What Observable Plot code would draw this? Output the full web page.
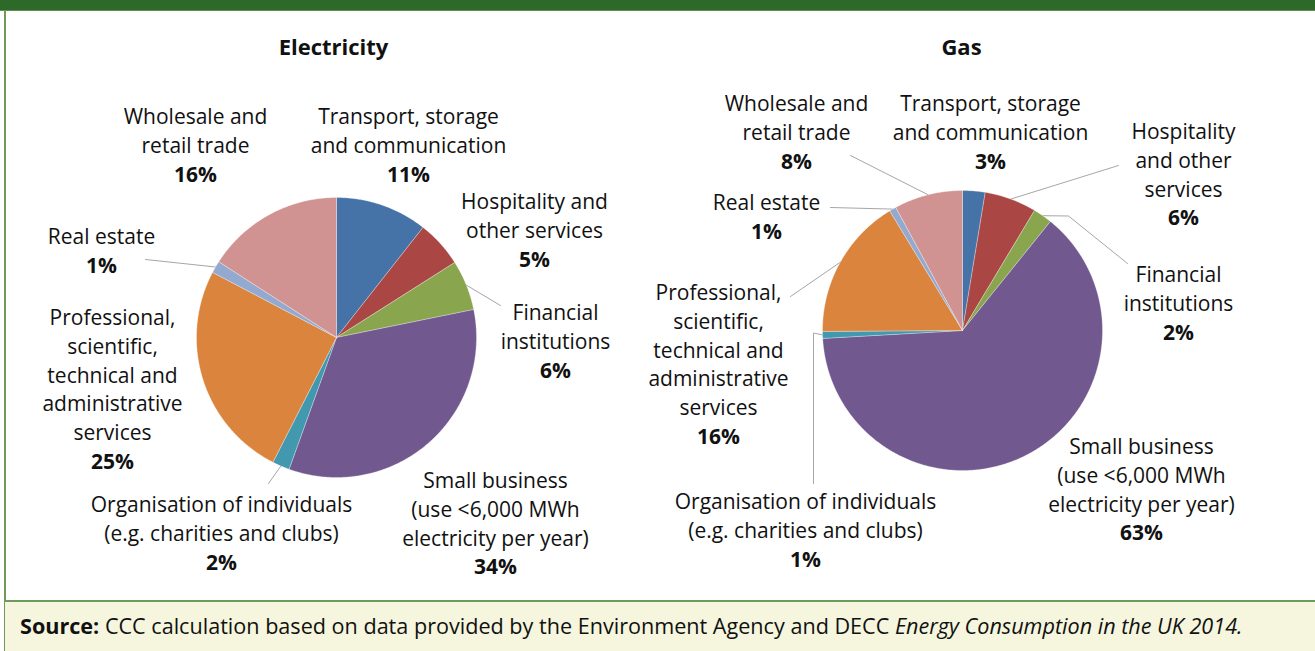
<!DOCTYPE html>
<html><head><meta charset="utf-8">
<script src="https://cdn.jsdelivr.net/npm/d3@7"></script>
<script src="https://cdn.jsdelivr.net/npm/@observablehq/plot@0.6"></script>
<style>
body{margin:0;background:#fff;}
#frame{position:relative;width:1315px;height:651px;overflow:hidden;background:#fff;font-family:"Open Sans",sans-serif;}
#chart{position:absolute;left:0;top:0;}
#topbar{position:absolute;left:0;top:0;width:1315px;height:10px;background:#2d6a2a;border-bottom:1px solid #5f8f50;}
#lborder{position:absolute;left:4px;top:10px;width:2px;height:641px;background:#6f9a5c;}
#footer{position:absolute;left:5px;top:600px;width:1310px;height:51px;background:#f5f6dd;border-top:2px solid #6f9a5c;box-sizing:border-box;font-size:21.6px;color:#111;padding-left:15px;line-height:47px;white-space:nowrap;}
</style></head>
<body>
<div id="frame">
  <div id="chart"></div>
  <div id="topbar"></div>
  <div id="lborder"></div>
  <div id="footer"><b>Source:</b> CCC calculation based on data provided by the Environment Agency and DECC <i>Energy Consumption in the UK 2014.</i></div>
</div>
<script>
// ---- data ----
const categories = [
  "Transport, storage and communication",
  "Hospitality and other services",
  "Financial institutions",
  "Small business (use <6,000 MWh electricity per year)",
  "Organisation of individuals (e.g. charities and clubs)",
  "Professional, scientific, technical and administrative services",
  "Real estate",
  "Wholesale and retail trade"
];
const electricity = [10.6, 5.4, 5.8, 33.7, 2.0, 25.2, 1.4, 15.9];
const gas = [2.6, 6.0, 2.2, 63.3, 0.8, 16.4, 0.8, 7.9];
const chartTitles = ["Electricity", "Gas"];
const colors = ["#4572A7", "#AA4643", "#89A54E", "#71588F", "#4198AF", "#DB843D", "#93A9CF", "#D19392"];

// ---- label text (line breaks per chart) ----
const elecLines = [
  ["Transport, storage", "and communication"],
  ["Hospitality and", "other services"],
  ["Financial", "institutions"],
  ["Small business", "(use <6,000 MWh", "electricity per year)"],
  ["Organisation of individuals", "(e.g. charities and clubs)"],
  ["Professional,", "scientific,", "technical and", "administrative", "services"],
  ["Real estate"],
  ["Wholesale and", "retail trade"]
];
const gasLines = [
  ["Transport, storage", "and communication"],
  ["Hospitality", "and other", "services"],
  ["Financial", "institutions"],
  ["Small business", "(use <6,000 MWh", "electricity per year)"],
  ["Organisation of individuals", "(e.g. charities and clubs)"],
  ["Professional,", "scientific,", "technical and", "administrative", "services"],
  ["Real estate"],
  ["Wholesale and", "retail trade"]
];

// ---- layout ----
const W = 1315, H = 601, LH = 28.7, FS = 21;
const pies = [
  {name: "e", cx: 336, cy: 337, r: 140, title: [333, 47]},
  {name: "g", cx: 962, cy: 330, r: 140, title: [961, 47]}
];
const elecLayout = [
  {x: 408, y: 117}, {x: 534, y: 202}, {x: 555, y: 313, leader: [[500, 305]]},
  {x: 495, y: 481}, {x: 221, y: 505, leader: [[268, 483]]},
  {x: 112, y: 318}, {x: 101, y: 237, leader: [[145, 259]]}, {x: 195, y: 117}
];
const gasLayout = [
  {x: 990, y: 104}, {x: 1183, y: 132, leader: [[1118, 165]]},
  {x: 1178, y: 275, leader: [[1068, 215.5], [1127, 263]]},
  {x: 1141, y: 447}, {x: 805, y: 502, leader: [[813, 332.5], [813, 483]]},
  {x: 718, y: 293, leader: [[790, 296]]}, {x: 766, y: 203, leader: [[830, 207]]},
  {x: 796, y: 104, leader: [[850, 155]]}
];

const slicePts = [], leaderPts = [], nameRows = [], pctRows = [], titleRows = [];
[[electricity, elecLines, elecLayout], [gas, gasLines, gasLayout]].forEach(([values, lines, layout], p) => {
  const pie = pies[p];
  titleRows.push({x: pie.title[0], y: pie.title[1], text: chartTitles[p]});
  const arcs = d3.pie().sort(null).value(d => d)(values);
  arcs.forEach((a, i) => {
    const key = pie.name + i, cat = categories[i];
    slicePts.push({x: pie.cx, y: pie.cy, key, cat});
    const n = Math.max(2, Math.ceil((a.endAngle - a.startAngle) / (Math.PI / 360)));
    for (let k = 0; k <= n; k++) {
      const t = a.startAngle + (a.endAngle - a.startAngle) * k / n;
      slicePts.push({x: pie.cx + pie.r * Math.sin(t), y: pie.cy - pie.r * Math.cos(t), key, cat});
    }
    slicePts.push({x: pie.cx, y: pie.cy, key, cat});
    const L = layout[i];
    lines[i].forEach((s, j) => nameRows.push({x: L.x, y: L.y + j * LH, text: s}));
    pctRows.push({x: L.x, y: L.y + lines[i].length * LH, text: Math.round(values[i]) + "%"});
    if (L.leader) {
      const mid = (a.startAngle + a.endAngle) / 2;
      leaderPts.push({x: pie.cx + pie.r * Math.sin(mid), y: pie.cy - pie.r * Math.cos(mid), id: key});
      L.leader.forEach(([x, y]) => leaderPts.push({x, y, id: key}));
    }
  });
});

const chart = Plot.plot({
  width: W, height: H, margin: 0,
  style: {fontFamily: "'Open Sans', sans-serif", background: "transparent"},
  x: {domain: [0, W], range: [0, W], axis: null},
  y: {domain: [0, H], range: [0, H], axis: null},
  color: {domain: categories, range: colors},
  marks: [
    Plot.line(leaderPts, {x: "x", y: "y", z: "id", stroke: "#a6a6a6", strokeWidth: 1, curve: "linear"}),
    Plot.line(slicePts, {x: "x", y: "y", z: "key", fill: "cat", stroke: "#ffffff", strokeWidth: 0.6, strokeOpacity: 0.5, curve: "linear"}),
    Plot.text(titleRows, {x: "x", y: "y", text: "text", fontSize: 22, fontWeight: "bold", fill: "#111", lineAnchor: "middle"}),
    Plot.text(nameRows, {x: "x", y: "y", text: "text", fontSize: FS, fill: "#111", lineAnchor: "middle"}),
    Plot.text(pctRows, {x: "x", y: "y", text: "text", fontSize: FS, fontWeight: "bold", fill: "#111", lineAnchor: "middle"})
  ]
});
document.getElementById("chart").appendChild(chart);
</script>
</body></html>
